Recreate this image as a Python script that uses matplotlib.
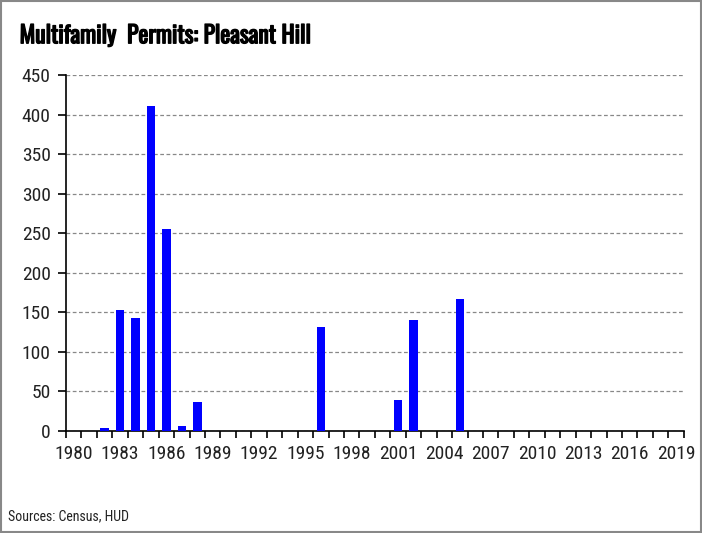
import numpy as np
import matplotlib
matplotlib.use("Agg")
from matplotlib import pyplot as plt
from matplotlib.patches import Rectangle
import matplotlib.patheffects as pe

years = list(range(1980, 2020))
permits = [0, 0, 4, 153, 143, 411, 256, 6, 37, 0,
           0, 0, 0, 0, 0, 0, 131, 0, 0, 0,
           0, 39, 140, 0, 0, 167, 0, 0, 0, 0,
           0, 0, 0, 0, 0, 0, 0, 0, 0, 0]
yticks = [0, 50, 100, 150, 200, 250, 300, 350, 400, 450]

plt.rcParams['font.family'] = ['Roboto Condensed', 'DejaVu Sans']

fig = plt.figure(figsize=(7.02, 5.33), dpi=100)
ax = fig.add_axes([0.094, 0.1914, 0.880, 0.6676])

x = np.arange(len(years))
ax.bar(x, permits, width=0.55, color='#0000ff', zorder=3)

ax.set_xlim(-0.5, len(years) - 0.5)
ax.set_ylim(0, 450)
ax.set_yticks(yticks)
ax.set_yticklabels([str(v) for v in yticks], fontsize=14, color='#222222')
ax.yaxis.grid(True, linestyle=(0, (3, 2)), color='#888888', linewidth=0.9, zorder=0)

# labels every 3 years centred on the bars, tick marks on the boundaries
ax.set_xticks(x[::3])
ax.set_xticklabels([str(y) for y in years[::3]], fontsize=14, color='#222222')
ax.set_xticks(np.arange(-0.5, len(years)), minor=True)
ax.tick_params(axis='x', which='major', length=0, pad=10)
ax.tick_params(axis='x', which='minor', length=5, width=1.2, direction='out')
ax.tick_params(axis='y', length=6, width=1.2, direction='out', pad=5)

for s in ['top', 'right']:
    ax.spines[s].set_visible(False)
ax.spines['left'].set_linewidth(1.2)
ax.spines['bottom'].set_linewidth(1.2)

fig.text(0.028, 0.933, "Multifamily  Permits: Pleasant Hill", fontsize=17,
         family=['Oswald', 'DejaVu Sans'], va='center', ha='left',
         path_effects=[pe.withStroke(linewidth=1.0, foreground='black')])
fig.text(0.012, 0.032, "Sources: Census, HUD", fontsize=10, va='center', ha='left',
         color='#222222')

fig.patches.append(Rectangle((0.001, 0.001), 0.997, 0.997, transform=fig.transFigure,
                             fill=False, edgecolor='#888888', linewidth=1.5))

fig.savefig("out.png", dpi=100)
